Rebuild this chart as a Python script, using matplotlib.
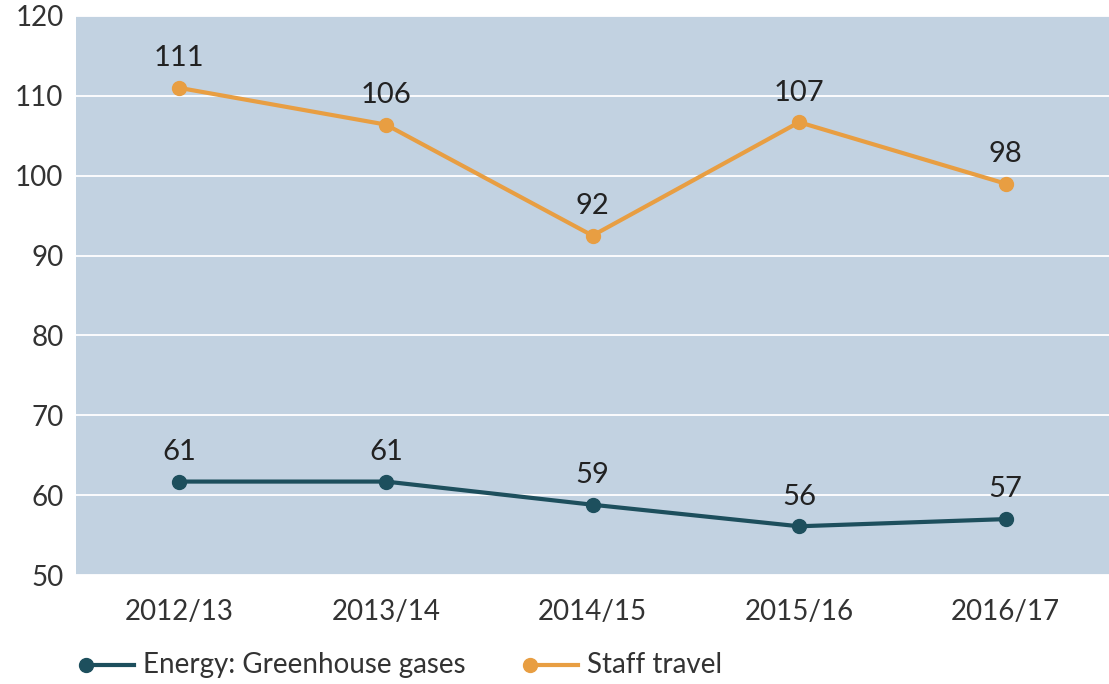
import matplotlib.pyplot as plt
from matplotlib.lines import Line2D

years = ['2012/13', '2013/14', '2014/15', '2015/16', '2016/17']
energy = [61.7, 61.7, 58.8, 56.1, 57.0]
energy_labels = ['61', '61', '59', '56', '57']
travel = [111.0, 106.4, 92.5, 106.7, 99.0]
travel_labels = ['111', '106', '92', '107', '98']

plt.rcParams['font.family'] = ['Lato', 'DejaVu Sans']

c_energy = '#1d4f5d'
c_travel = '#e89e42'
c_text = '#333333'

fig = plt.figure(figsize=(11.09, 6.84), dpi=100)
ax = fig.add_axes([76/1109, 1 - 575/684, 1 - 76/1109, (575 - 16)/684])
ax.set_facecolor('#c2d2e1')

x = list(range(len(years)))
ax.plot(x, energy, color=c_energy, lw=3, marker='o', ms=10, zorder=3)
ax.plot(x, travel, color=c_travel, lw=3, marker='o', ms=10, zorder=3)

for xi, v, lab in zip(x, energy, energy_labels):
    ax.annotate(lab, (xi, v), xytext=(0, 12), textcoords='offset points',
                ha='center', va='bottom', fontsize=21, color='#222222')
for xi, v, lab in zip(x, travel, travel_labels):
    ax.annotate(lab, (xi, v), xytext=(0, 12), textcoords='offset points',
                ha='center', va='bottom', fontsize=21, color='#222222')

ax.set_xlim(-0.5, 4.5)
ax.set_ylim(50, 120)
ax.set_yticks(range(50, 121, 10))
ax.set_xticks(x)
ax.set_xticklabels(years)
ax.grid(axis='y', color='white', lw=1.3)
ax.set_axisbelow(True)
for s in ax.spines.values():
    s.set_visible(False)
ax.tick_params(length=0, labelsize=20, colors=c_text)
ax.tick_params(axis='x', pad=17)
ax.tick_params(axis='y', pad=9)

# legend drawn by hand so the marker sits at the left end of the line
ly = 1 - 665/684
for x0, col, txt in [(86, c_energy, 'Energy: Greenhouse gases'), (530, c_travel, 'Staff travel')]:
    fig.add_artist(Line2D([x0/1109, (x0 + 48)/1109], [ly, ly], color=col, lw=3))
    fig.add_artist(Line2D([x0/1109], [ly], color=col, marker='o', ms=10, lw=0))
    fig.text((x0 + 57)/1109, ly, txt, fontsize=20, color=c_text, va='center', ha='left')

fig.savefig('out.png', dpi=100)
